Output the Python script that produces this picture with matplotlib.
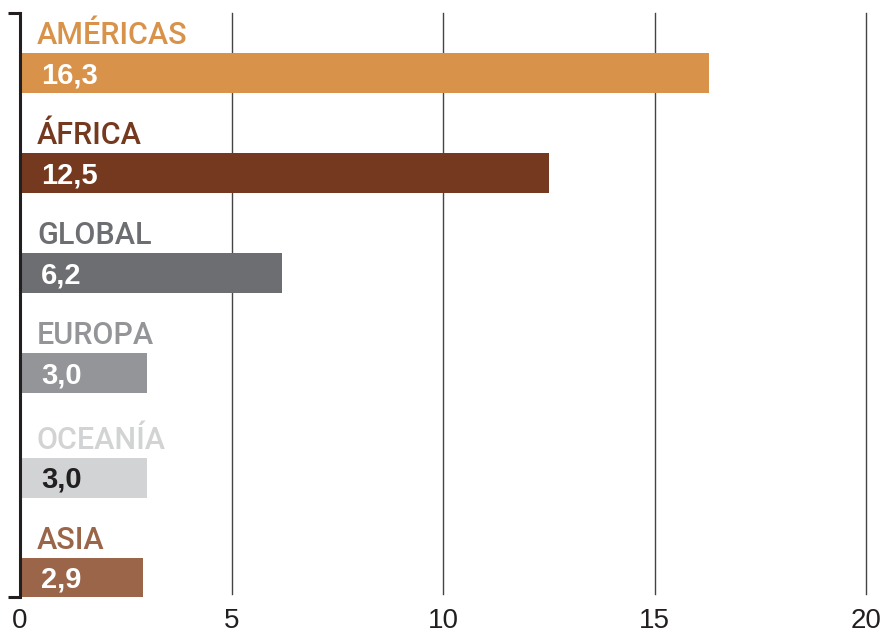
import matplotlib.pyplot as plt

regions = ['AMÉRICAS', 'ÁFRICA', 'GLOBAL', 'EUROPA', 'OCEANÍA', 'ASIA']
values = [16.3, 12.5, 6.2, 3.0, 3.0, 2.9]
value_labels = ['16,3', '12,5', '6,2', '3,0', '3,0', '2,9']
colors = ['#D8924A', '#74391E', '#6D6E71', '#939598', '#D1D3D4', '#9A6548']
text_colors = ['white', 'white', 'white', 'white', '#231F20', 'white']
ticks = [0, 5, 10, 15, 20]

ypos = [0, 1, 2, 3, 4.05, 5.05]
dark = '#231F20'

fig = plt.figure(figsize=(8.81, 6.35), dpi=100)
ax = fig.add_axes([20 / 881, 38 / 635, 846 / 881, 584 / 635])

ax.barh(ypos, values, height=0.4, color=colors, zorder=3)

for y, name, lab, c, tc in zip(ypos, regions, value_labels, colors, text_colors):
    ax.text(0.4, y - 0.29, name, color=c, fontsize=22, fontweight='medium',
            family='Roboto', va='baseline', ha='left', zorder=4)
    ax.text(0.5, y + 0.1, lab, color=tc, fontsize=21, fontweight='bold',
            family='Liberation Sans', va='baseline', ha='left', zorder=4)

ax.set_xlim(0, 20)
ax.set_ylim(5.24, -0.6)
ax.set_xticks(ticks)
ax.set_xticklabels([str(t) for t in ticks], family='Liberation Sans',
                   fontsize=20, color=dark)
ax.tick_params(axis='x', length=0, pad=8)
ax.set_yticks([])

for t in ticks[1:]:
    ax.axvline(t, ymin=0.005, ymax=1, color='#444444', lw=1, zorder=1,
               clip_on=False)

for s in ['top', 'right', 'bottom']:
    ax.spines[s].set_visible(False)
ax.spines['left'].set_color(dark)
ax.spines['left'].set_linewidth(2.2)
ax.spines['left'].set_zorder(5)

# bracket ends on the left spine
for yy in (0, 1):
    ax.plot([-0.014, 0], [yy, yy], transform=ax.transAxes, color=dark,
            lw=2.2, clip_on=False, solid_capstyle='butt')

plt.savefig('out.png', dpi=100)
